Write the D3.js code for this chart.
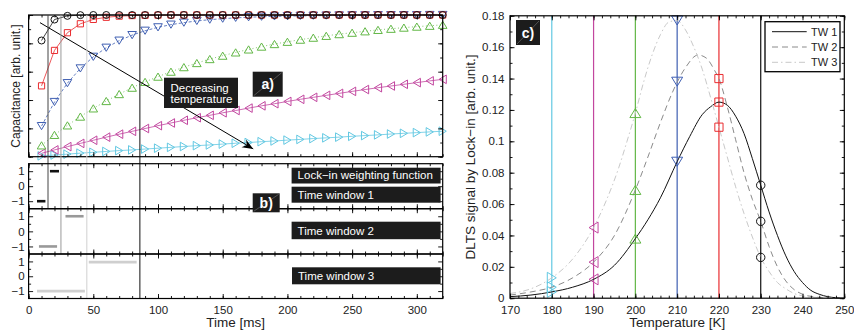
<!DOCTYPE html>
<html>
<head>
<meta charset="utf-8">
<script src="https://cdn.jsdelivr.net/npm/d3@7"></script>
<style>
body { margin: 0; background: #fff; }
svg { display: block; }
</style>
</head>
<body>
<div id="chart"></div>
<script>
// datos del panel a) : capacidad frente a tiempo, un transitorio por temperatura
const timeMs = [10,20,30,40,50,60,70,80,90,100,110,120,130,140,150,160,170,180,190,200,210,220,230,240,250,260,270,280,290,300,310,320]
const capBlack = [0.82,0.968,0.994,0.999,1,1,1,1,1,1,1,1,1,1,1,1,1,1,1,1,1,1,1,1,1,1,1,1,1,1,1,1]
const capRed = [0.50,0.75,0.875,0.938,0.969,0.984,0.992,0.996,0.998,0.999,1,1,1,1,1,1,1,1,1,1,1,1,1,1,1,1,1,1,1,1,1,1]
const capBlue = [0.216,0.386,0.519,0.623,0.705,0.769,0.819,0.858,0.889,0.913,0.932,0.946,0.958,0.967,0.974,0.980,0.984,0.988,0.990,0.992,0.994,0.995,0.996,0.997,0.998,0.998,0.999,0.999,0.999,0.999,1,1]
const capGreen = [0.080,0.154,0.221,0.283,0.341,0.393,0.442,0.487,0.528,0.565,0.600,0.632,0.661,0.689,0.713,0.736,0.757,0.777,0.795,0.811,0.826,0.840,0.853,0.865,0.875,0.885,0.895,0.903,0.911,0.918,0.924,0.931]
const capMagenta = [0.024,0.048,0.071,0.094,0.116,0.138,0.159,0.179,0.199,0.219,0.238,0.257,0.275,0.292,0.310,0.326,0.343,0.359,0.374,0.390,0.405,0.419,0.433,0.447,0.461,0.474,0.487,0.499,0.511,0.523,0.535,0.546]
const capCyan = [0.006,0.012,0.018,0.025,0.031,0.037,0.043,0.048,0.054,0.060,0.066,0.072,0.078,0.083,0.089,0.095,0.100,0.106,0.111,0.117,0.122,0.128,0.133,0.138,0.144,0.149,0.154,0.160,0.165,0.170,0.175,0.180]

// datos del panel b) : funciones de peso (t inicio, t fin, valor)
const tw1Segments = [[6.5, 13, -1], [16.5, 23.5, 1]]
const tw2Segments = [[8, 22, -1], [28.5, 42.5, 1]]
const tw3Segments = [[6.5, 43.5, -1], [46.5, 83.5, 0.95]]
const windowEdgesMs = [15, 25, 45, 86]

// datos del panel c) : señal DLTS frente a temperatura
const tw1TempK = [170,175,180,185,190,195,200,203,206,210,213,216,218,220,222,224,226,228,230,232,234,236,238,240,242,244,246,248,250]
const tw1Signal = [0.001,0.002,0.004,0.007,0.012,0.021,0.038,0.050,0.064,0.087,0.103,0.117,0.122,0.125,0.123,0.116,0.105,0.089,0.072,0.055,0.040,0.027,0.017,0.010,0.005,0.0025,0.001,0.0003,0.0001]
const tw2TempK = [170,175,180,185,190,195,200,203,206,209,212,215,217,219,220,222,224,226,228,230,232,234,236,238,240,243,246,250]
const tw2Signal = [0.002,0.004,0.007,0.013,0.023,0.040,0.069,0.090,0.112,0.132,0.147,0.155,0.153,0.145,0.140,0.122,0.101,0.080,0.063,0.049,0.033,0.020,0.011,0.0055,0.0025,0.0008,0.0002,0]
const tw3TempK = [170,175,180,185,190,193,196,198,200,202,204,206,208,210,212,214,216,218,220,222,224,226,228,230,232,234,236,238,240,244,250]
const tw3Signal = [0.003,0.006,0.013,0.025,0.045,0.062,0.083,0.100,0.118,0.138,0.155,0.168,0.176,0.177,0.171,0.160,0.146,0.128,0.109,0.090,0.071,0.054,0.039,0.026,0.017,0.010,0.006,0.003,0.0015,0.0004,0]
const markTempK = [180, 190, 200, 210, 220, 230]
const markTw1 = [0.004, 0.012, 0.038, 0.087, 0.125, 0.072]
const markTw2 = [0.007, 0.023, 0.069, 0.138, 0.140, 0.049]
const markTw3 = [0.013, 0.045, 0.118, 0.177, 0.109, 0.026]
const tempColors = ["#62c8e2", "#c2469f", "#62b746", "#3f5fb2", "#e92c2f", "#111"]
const tempShapes = ["right", "left", "up", "down", "square", "circle"]
const legendLabels = ["TW 1", "TW 2", "TW 3"]

// ----------------------------------------------------------

const width = 854
const height = 333
const font = '"Liberation Sans", Arial, Helvetica, sans-serif'

const svg = d3.select("div#chart").append("svg")
    .attr("width", width)
    .attr("height", height)
    .attr("font-family", font)

svg.append("defs").append("marker")
    .attr("id", "arrowHead")
    .attr("markerUnits", "userSpaceOnUse")
    .attr("markerWidth", 14).attr("markerHeight", 12)
    .attr("refX", 0).attr("refY", 0)
    .attr("viewBox", "-12 -6 14 12")
    .attr("orient", "auto")
    .append("path").attr("d", "M0,0 L-11,-4.5 L-7.5,0 L-11,4.5 Z").attr("fill", "#000")

// Escalas
const scaleT = d3.scaleLinear().domain([0, 320]).range([28.6, 442.7])
const scaleCap = d3.scaleLinear().domain([0, 1]).range([156.7, 15])
const twBounds = [[163.7, 208.7], [208.7, 254], [254, 298.5]]
const scaleTW = twBounds.map(b => d3.scaleLinear().domain([-1.5, 1.5]).range([b[1], b[0]]))
const scaleK = d3.scaleLinear().domain([170, 250]).range([510, 844.3])
const scaleS = d3.scaleLinear().domain([0, 0.18]).range([298.2, 15.8])

// Marco con ticks hacia dentro por los cuatro lados (estilo MATLAB)
function frame(g, x, y, o) {
    const [xa, xb] = x.range(), [yb, ya] = y.range()
    const axisPart = (axisFn, scale, vals, size, tx, ty, fmt, pad) => {
        const ax = axisFn(scale).tickValues(vals).tickSizeInner(-size).tickSizeOuter(0)
            .tickPadding(pad || 4).tickFormat(fmt || (() => ""))
        const gg = g.append("g").attr("transform", `translate(${tx},${ty})`).call(ax)
        gg.select(".domain").remove()
        gg.selectAll("line").attr("stroke", "#000").attr("stroke-width", 0.9)
        gg.selectAll("text").attr("font-size", 11.5).attr("font-family", font).attr("fill", "#222")
    }
    axisPart(d3.axisBottom, x, o.xMinor, 2.5, 0, yb)
    axisPart(d3.axisTop, x, o.xMinor, 2.5, 0, ya)
    axisPart(d3.axisLeft, y, o.yMinor, 2.5, xa, 0)
    axisPart(d3.axisRight, y, o.yMinor, 2.5, xb, 0)
    axisPart(d3.axisBottom, x, o.xMajor, 4.5, 0, yb, o.xFmt, o.xPad)
    axisPart(d3.axisTop, x, o.xMajor, 4.5, 0, ya)
    axisPart(d3.axisLeft, y, o.yMajor, 4.5, xa, 0, o.yFmt, o.yPad)
    axisPart(d3.axisRight, y, o.yMajor, 4.5, xb, 0)
    g.append("rect").attr("x", xa).attr("y", ya).attr("width", xb - xa).attr("height", yb - ya)
        .attr("fill", "none").attr("stroke", "#000").attr("stroke-width", 1.2)
}

// Formas de marcador (huecas)
function markerPath(shape, w, h) {
    switch (shape) {
        case "circle": return d3.symbol(d3.symbolCircle, Math.PI * w * w)()
        case "square": return `M${-w},${-w}H${w}V${w}H${-w}Z`
        case "up": return `M0,${-h}L${w},${h}L${-w},${h}Z`
        case "down": return `M0,${h}L${w},${-h}L${-w},${-h}Z`
        case "left": return `M${-h},0L${h},${-w}L${h},${w}Z`
        case "right": return `M${h},0L${-h},${-w}L${-h},${w}Z`
    }
}

function labelBox(x, y, w, h, lines, opts) {
    opts = opts || {}
    svg.append("rect").attr("x", x).attr("y", y).attr("width", w).attr("height", h).attr("fill", "#1c1c1c")
    if (opts.diag) {
        svg.append("line").attr("x1", x + 1).attr("y1", y + h - 1).attr("x2", x + w - 1).attr("y2", y + 1)
            .attr("stroke", "#777").attr("stroke-width", 0.6)
    }
    lines.forEach((l, i) => {
        svg.append("text").text(l.text)
            .attr("x", l.x).attr("y", l.y)
            .attr("fill", "#fff")
            .attr("font-size", opts.size || 11.5)
            .attr("font-weight", opts.bold ? "bold" : "normal")
            .attr("text-anchor", opts.anchor || "start")
    })
}

// ---------------- Panel a) ----------------
const aGroup = svg.append("g").attr("id", "panelA")
const tMajor = [0, 50, 100, 150, 200, 250, 300]
const tMinor = d3.range(0, 321, 10)

// líneas verticales de las ventanas (van por a) y b))
const edgeColors = ["#444", "#9a9a9a", "#d0d0d0", "#111"]
const edgeBottoms = [twBounds[0][1], twBounds[1][1], twBounds[2][1], twBounds[2][1]]
windowEdgesMs.forEach((t, i) => {
    svg.append("line")
        .attr("x1", scaleT(t)).attr("x2", scaleT(t))
        .attr("y1", scaleCap(1)).attr("y2", edgeBottoms[i])
        .attr("stroke", edgeColors[i]).attr("stroke-width", 1)
})

const capSeries = [
    { values: capCyan, color: tempColors[0], shape: "right", dash: null },
    { values: capMagenta, color: tempColors[1], shape: "left", dash: null },
    { values: capGreen, color: tempColors[2], shape: "up", dash: "1,2.5" },
    { values: capBlue, color: tempColors[3], shape: "down", dash: "3,2" },
    { values: capRed, color: tempColors[4], shape: "square", dash: null },
    { values: capBlack, color: tempColors[5], shape: "circle", dash: null }
]
const capLine = d3.line().x((d, i) => scaleT(timeMs[i])).y(d => scaleCap(d))
capSeries.forEach(s => {
    aGroup.append("path").attr("d", capLine(s.values))
        .attr("fill", "none").attr("stroke", s.color).attr("stroke-width", 0.8)
        .attr("stroke-dasharray", s.dash)
    const sz = s.shape === "circle" ? [3.5, 3.5] : s.shape === "square" ? [3.1, 3.1] : [4.3, 3.6]
    aGroup.selectAll(null).data(s.values).enter().append("path")
        .attr("d", markerPath(s.shape, sz[0], sz[1]))
        .attr("transform", (d, i) => `translate(${scaleT(timeMs[i])},${scaleCap(d)})`)
        .attr("fill", "none").attr("stroke", s.color).attr("stroke-width", 1)
})

frame(aGroup, scaleT, scaleCap, {
    xMajor: tMajor, xMinor: tMinor,
    yMajor: [0, 0.2, 0.4, 0.6, 0.8, 1], yMinor: d3.range(0, 1.01, 0.1)
})

// flecha "Decreasing temperature"
aGroup.append("line")
    .attr("x1", scaleT(8.8)).attr("y1", scaleCap(0.946))
    .attr("x2", scaleT(173.6)).attr("y2", scaleCap(0.055))
    .attr("stroke", "#000").attr("stroke-width", 1)
    .attr("marker-end", "url(#arrowHead)")

svg.append("text").text("Capacitance [arb. unit.]")
    .attr("transform", "translate(19.5, 86) rotate(-90)")
    .attr("text-anchor", "middle").attr("font-size", 12).attr("fill", "#222")

// ---------------- Panel b) ----------------
const twSegments = [tw1Segments, tw2Segments, tw3Segments]
const twColors = ["#111", "#999", "#cfcfcf"]
twSegments.forEach((segs, k) => {
    const g = svg.append("g").attr("id", "tw" + (k + 1))
    g.selectAll("line.seg").data(segs).enter().append("line").attr("class", "seg")
        .attr("x1", d => scaleT(d[0])).attr("x2", d => scaleT(d[1]))
        .attr("y1", d => scaleTW[k](d[2])).attr("y2", d => scaleTW[k](d[2]))
        .attr("stroke", twColors[k]).attr("stroke-width", 2.6)
    frame(g, scaleT, scaleTW[k], {
        xMajor: tMajor, xMinor: tMinor,
        xFmt: k === 2 ? d3.format("d") : null, xPad: 7.5,
        yMajor: [-1, 0, 1], yMinor: [-0.5, 0.5],
        yFmt: d3.format("d"), yPad: 4
    })
})

svg.append("text").text("Time [ms]")
    .attr("x", scaleT(160)).attr("y", 327)
    .attr("text-anchor", "middle").attr("font-size", 13.5).attr("fill", "#222")

// ---------------- Panel c) ----------------
const cGroup = svg.append("g").attr("id", "panelC")
markTempK.forEach((T, i) => {
    cGroup.append("line")
        .attr("x1", scaleK(T)).attr("x2", scaleK(T))
        .attr("y1", scaleS(0)).attr("y2", scaleS(0.18))
        .attr("stroke", tempColors[i]).attr("stroke-width", 1.2)
})

const dltsLine = d3.line().curve(d3.curveMonotoneX)
const curves = [
    { T: tw1TempK, S: tw1Signal, color: "#111", dash: null },
    { T: tw2TempK, S: tw2Signal, color: "#8a8a8a", dash: "6,4" },
    { T: tw3TempK, S: tw3Signal, color: "#c9c9c9", dash: "6,3,1.5,3" }
]
curves.forEach(c => {
    cGroup.append("path")
        .attr("d", dltsLine(c.T.map((t, i) => [scaleK(t), scaleS(c.S[i])])))
        .attr("fill", "none").attr("stroke", c.color).attr("stroke-width", 1)
        .attr("stroke-dasharray", c.dash)
})

;[markTw1, markTw2, markTw3].forEach(vals => {
    cGroup.selectAll(null).data(vals).enter().append("path")
        .attr("d", (d, i) => {
            const s = tempShapes[i]
            return s === "circle" ? markerPath(s, 4.2) : s === "square" ? markerPath(s, 4.1) : markerPath(s, 5.5, 4.5)
        })
        .attr("transform", (d, i) => `translate(${scaleK(markTempK[i])},${scaleS(d)})`)
        .attr("fill", "none").attr("stroke", (d, i) => tempColors[i]).attr("stroke-width", 1)
})

frame(cGroup, scaleK, scaleS, {
    xMajor: [170, 180, 190, 200, 210, 220, 230, 240, 250], xMinor: d3.range(170, 251, 2),
    xFmt: d3.format("d"), xPad: 7.5,
    yMajor: [0, 0.02, 0.04, 0.06, 0.08, 0.1, 0.12, 0.14, 0.16, 0.18], yMinor: d3.range(0, 0.181, 0.01),
    yFmt: d => String(+d.toFixed(2)), yPad: 5.5
})

svg.append("text").text("Temperature [K]")
    .attr("x", scaleK(210)).attr("y", 327)
    .attr("text-anchor", "middle").attr("font-size", 13.5).attr("fill", "#222")
svg.append("text").text("DLTS signal by Lock\u2212in [arb. unit.]")
    .attr("transform", "translate(475, 157) rotate(-90)")
    .attr("text-anchor", "middle").attr("font-size", 13.5).attr("fill", "#222")

// Leyenda
const leg = svg.append("g").attr("id", "legend")
leg.append("rect").attr("x", 765).attr("y", 21.7).attr("width", 75).attr("height", 50)
    .attr("fill", "#fff").attr("stroke", "#000").attr("stroke-width", 1.3)
legendLabels.forEach((l, i) => {
    const y = 31.7 + i * 15.3
    leg.append("line").attr("x1", 772).attr("x2", 806.7).attr("y1", y).attr("y2", y)
        .attr("stroke", curves[i].color).attr("stroke-width", 1).attr("stroke-dasharray", curves[i].dash)
    leg.append("text").text(l).attr("x", 811).attr("y", y + 4)
        .attr("font-size", 11).attr("fill", "#222")
})

// ---------------- Etiquetas en cajas ----------------
labelBox(164, 77.7, 74, 30.3, [
    { text: "Decreasing", x: 170.5, y: 91.6 },
    { text: "temperature", x: 170.5, y: 103.2 }
])
labelBox(252.7, 71.7, 30, 25, [{ text: "a)", x: 267.7, y: 89 }], { bold: true, size: 14, anchor: "middle", diag: true })
labelBox(291.6, 167.7, 149, 15.8, [{ text: "Lock\u2212in weighting function", x: 297.6, y: 179.2 }])
labelBox(291.6, 186.7, 149, 16, [{ text: "Time window 1", x: 297.6, y: 199 }])
labelBox(252.7, 193.3, 27, 19, [{ text: "b)", x: 266.2, y: 207.5 }], { bold: true, size: 14, anchor: "middle", diag: true })
labelBox(291.6, 221.7, 149, 17.5, [{ text: "Time window 2", x: 297.6, y: 234.8 }])
labelBox(292, 267.3, 148.6, 17, [{ text: "Time window 3", x: 298, y: 280.2 }])
labelBox(516, 20, 24, 25, [{ text: "c)", x: 528, y: 37.5 }], { bold: true, size: 14, anchor: "middle", diag: true })
</script>
</body>
</html>
